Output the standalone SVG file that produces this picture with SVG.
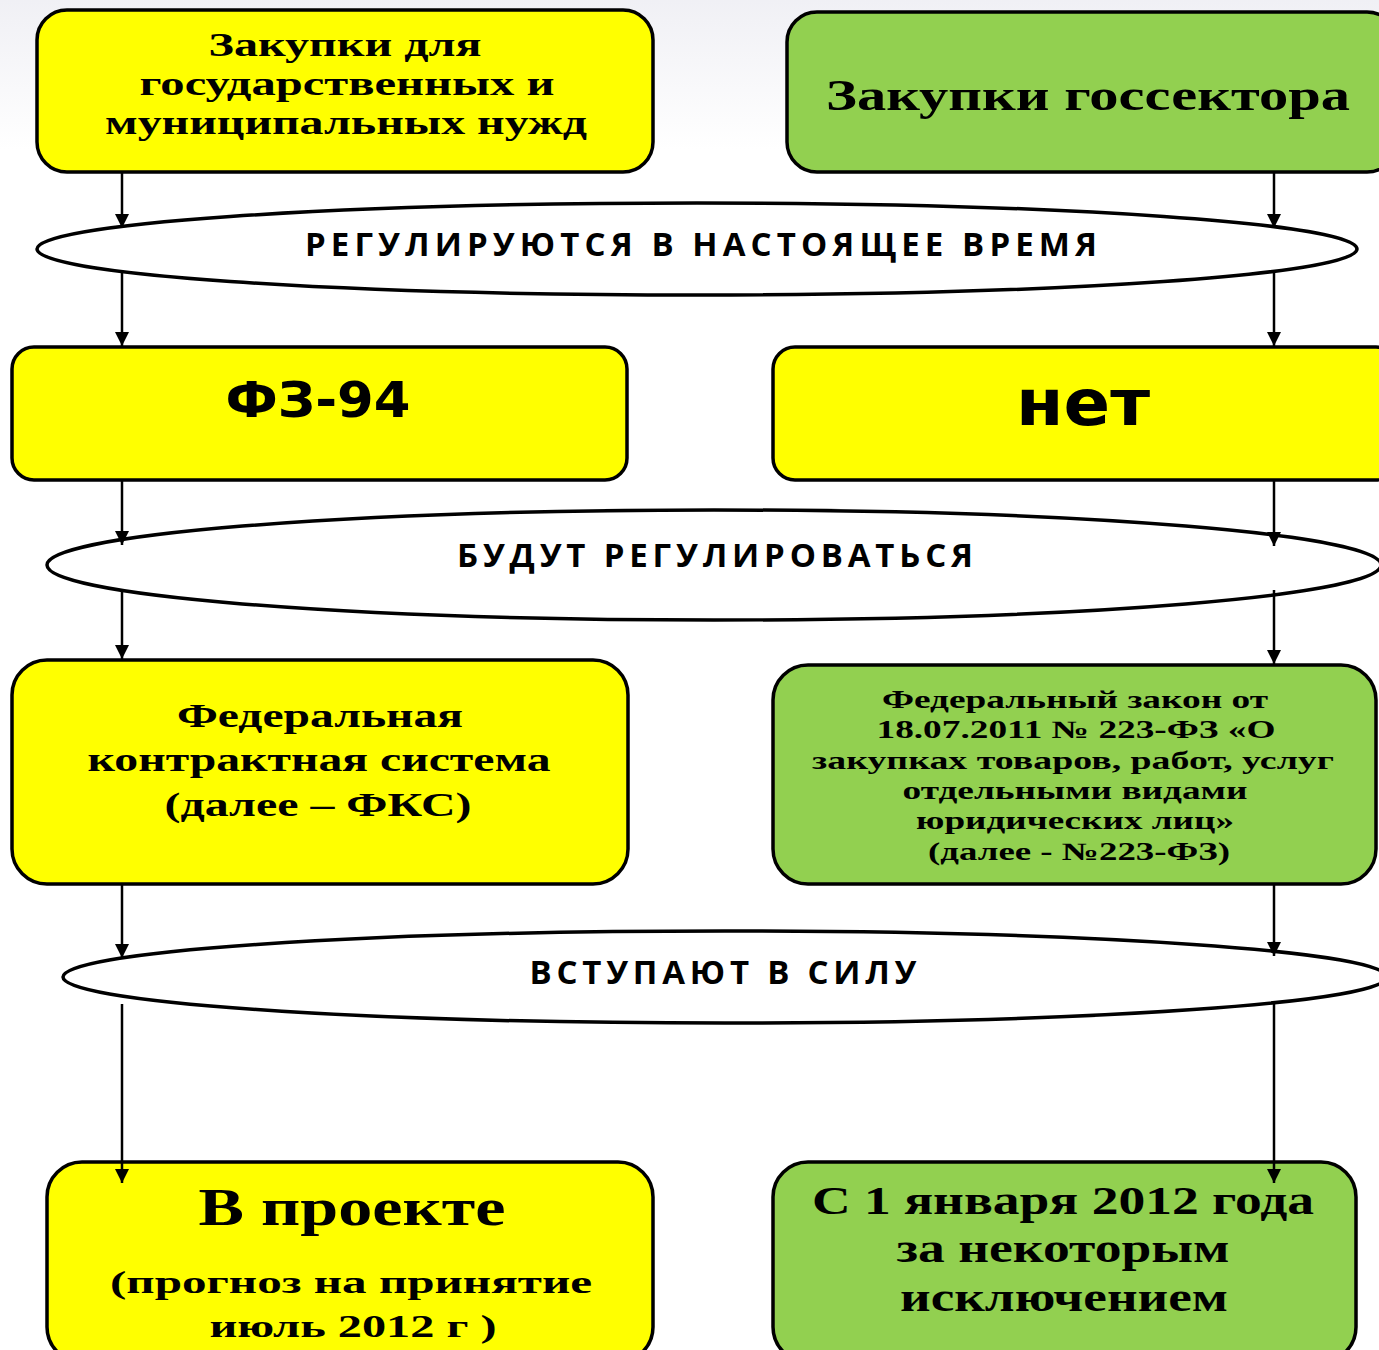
<svg xmlns="http://www.w3.org/2000/svg" width="1379" height="1350" viewBox="0 0 1379 1350">
<defs>
<marker id="arr" markerUnits="userSpaceOnUse" markerWidth="14" markerHeight="14" refX="12" refY="6" orient="auto" viewBox="0 0 12 12">
<path d="M0,0 L12,6 L0,12 Z" fill="#000"/>
</marker>
<linearGradient id="bg" x1="0" y1="0" x2="0" y2="1">
<stop offset="0" stop-color="#e6e6ee"/>
<stop offset="1" stop-color="#ffffff"/>
</linearGradient>
</defs>
<style>
.box{stroke:#000;stroke-width:3.5}
.y{fill:#ffff00}
.g{fill:#92d050}
.ell{fill:#fff;stroke:#000;stroke-width:3.5}
.ser{font-family:"Liberation Serif","Times New Roman",serif;font-weight:bold;fill:#000;text-anchor:middle}
.san{font-family:"Open Sans","Liberation Sans",sans-serif;font-weight:bold;fill:#000;text-anchor:middle}
.ar{font-family:"DejaVu Sans","Liberation Sans",sans-serif;font-weight:bold;fill:#000;text-anchor:middle}
.con{stroke:#000;stroke-width:2.5;fill:none}
</style>
<rect x="0" y="0" width="1379" height="1350" fill="#fff"/>
<rect x="0" y="0" width="1379" height="150" fill="url(#bg)" opacity="0.6"/>

<g id="n1">
<rect class="box y" x="37" y="10" width="616" height="162" rx="30"/>
<text class="ser" font-size="33" x="345" y="56" textLength="273" lengthAdjust="spacingAndGlyphs">Закупки для</text>
<text class="ser" font-size="33" x="347" y="95" textLength="415" lengthAdjust="spacingAndGlyphs">государственных и</text>
<text class="ser" font-size="33" x="346" y="134" textLength="482" lengthAdjust="spacingAndGlyphs">муниципальных нужд</text>
</g>
<g id="n2">
<rect class="box g" x="787" y="12" width="610" height="160" rx="30"/>
<text class="ser" font-size="44" x="1088" y="110" textLength="524" lengthAdjust="spacingAndGlyphs">Закупки госсектора</text>
</g>

<g id="e1">
<ellipse class="ell" cx="697" cy="249" rx="660" ry="46"/>
<text class="san" font-size="33" x="701" y="256" textLength="792" lengthAdjust="spacing">РЕГУЛИРУЮТСЯ В НАСТОЯЩЕЕ ВРЕМЯ</text>
</g>

<g id="n3">
<rect class="box y" x="12" y="347" width="615" height="133" rx="22"/>
<text class="ar" font-size="50" x="318" y="417" textLength="185" lengthAdjust="spacingAndGlyphs">ФЗ-94</text>
</g>
<g id="n4">
<rect class="box y" x="773" y="347" width="625" height="133" rx="22"/>
<text class="ar" font-size="64" x="1083" y="425" textLength="134" lengthAdjust="spacingAndGlyphs">нет</text>
</g>

<g id="e2">
<ellipse class="ell" cx="714" cy="565" rx="667" ry="55"/>
<text class="san" font-size="33" x="715" y="567" textLength="516" lengthAdjust="spacing">БУДУТ РЕГУЛИРОВАТЬСЯ</text>
</g>

<g id="n5">
<rect class="box y" x="12" y="660" width="616" height="224" rx="35"/>
<text class="ser" font-size="33" x="320" y="727" textLength="286" lengthAdjust="spacingAndGlyphs">Федеральная</text>
<text class="ser" font-size="33" x="319" y="771" textLength="463" lengthAdjust="spacingAndGlyphs">контрактная система</text>
<text class="ser" font-size="33" x="318" y="816" textLength="307" lengthAdjust="spacingAndGlyphs">(далее – ФКС)</text>
</g>
<g id="n6">
<rect class="box g" x="773" y="665" width="603" height="219" rx="35"/>
<text class="ser" font-size="25" x="1075" y="708" textLength="386" lengthAdjust="spacingAndGlyphs">Федеральный закон от</text>
<text class="ser" font-size="25" x="1076" y="738" textLength="399" lengthAdjust="spacingAndGlyphs">18.07.2011 № 223-ФЗ «О</text>
<text class="ser" font-size="25" x="1073" y="769" textLength="522" lengthAdjust="spacingAndGlyphs">закупках товаров, работ, услуг</text>
<text class="ser" font-size="25" x="1075" y="799" textLength="345" lengthAdjust="spacingAndGlyphs">отдельными видами</text>
<text class="ser" font-size="25" x="1075" y="829" textLength="318" lengthAdjust="spacingAndGlyphs">юридических лиц»</text>
<text class="ser" font-size="25" x="1079" y="860" textLength="302" lengthAdjust="spacingAndGlyphs">(далее - №223-ФЗ)</text>
</g>

<g id="e3">
<ellipse class="ell" cx="725" cy="977" rx="662" ry="46"/>
<text class="san" font-size="33" x="723" y="984" textLength="387" lengthAdjust="spacing">ВСТУПАЮТ В СИЛУ</text>
</g>

<g id="n7">
<rect class="box y" x="47" y="1162" width="606" height="200" rx="35"/>
<text class="ser" font-size="52" x="352" y="1225" textLength="307" lengthAdjust="spacingAndGlyphs">В проекте</text>
<text class="ser" font-size="32" x="351" y="1293" textLength="482" lengthAdjust="spacingAndGlyphs">(прогноз  на принятие</text>
<text class="ser" font-size="32" x="353" y="1337" textLength="287" lengthAdjust="spacingAndGlyphs">июль 2012 г )</text>
</g>
<g id="n8">
<rect class="box g" x="773" y="1162" width="583" height="200" rx="35"/>
<text class="ser" font-size="40" x="1063" y="1214" textLength="502" lengthAdjust="spacingAndGlyphs">С 1 января 2012 года</text>
<text class="ser" font-size="40" x="1063" y="1262" textLength="333" lengthAdjust="spacingAndGlyphs">за некоторым</text>
<text class="ser" font-size="40" x="1064" y="1311" textLength="328" lengthAdjust="spacingAndGlyphs">исключением</text>
</g>

<g id="connectors">
<line class="con" x1="122" y1="173" x2="122" y2="228" marker-end="url(#arr)"/>
<line class="con" x1="122" y1="270" x2="122" y2="346" marker-end="url(#arr)"/>
<line class="con" x1="122" y1="481" x2="122" y2="545" marker-end="url(#arr)"/>
<line class="con" x1="122" y1="590" x2="122" y2="659" marker-end="url(#arr)"/>
<line class="con" x1="122" y1="885" x2="122" y2="958" marker-end="url(#arr)"/>
<line class="con" x1="122" y1="1004" x2="122" y2="1183" marker-end="url(#arr)"/>
<line class="con" x1="1274" y1="173" x2="1274" y2="228" marker-end="url(#arr)"/>
<line class="con" x1="1274" y1="272" x2="1274" y2="346" marker-end="url(#arr)"/>
<line class="con" x1="1274" y1="481" x2="1274" y2="546" marker-end="url(#arr)"/>
<line class="con" x1="1274" y1="590" x2="1274" y2="664" marker-end="url(#arr)"/>
<line class="con" x1="1274" y1="885" x2="1274" y2="956" marker-end="url(#arr)"/>
<line class="con" x1="1274" y1="1004" x2="1274" y2="1183" marker-end="url(#arr)"/>
</g>
</svg>
